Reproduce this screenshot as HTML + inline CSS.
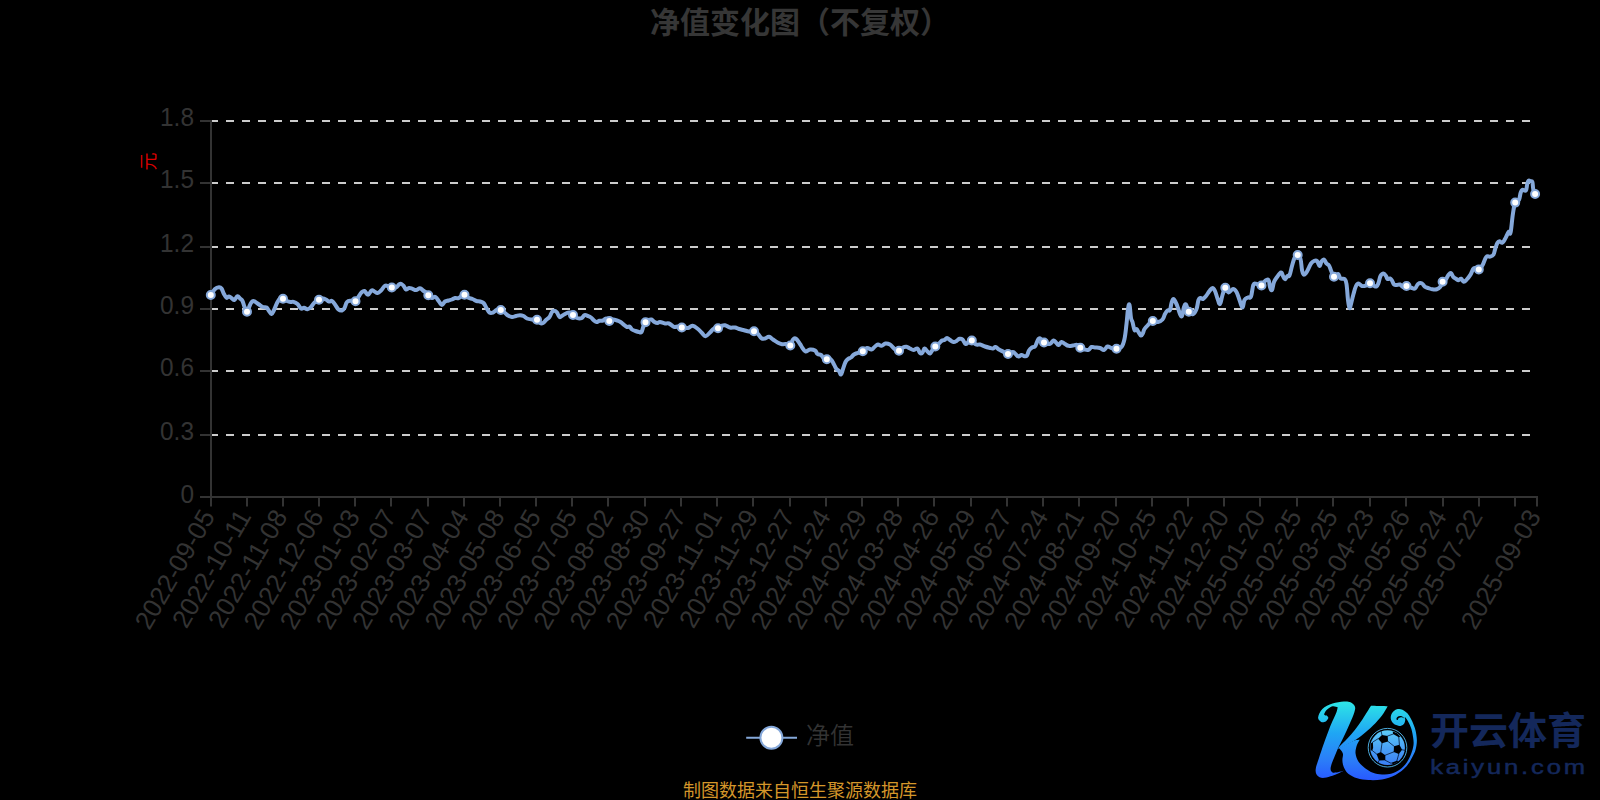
<!DOCTYPE html>
<html><head><meta charset="utf-8"><title>净值变化图（不复权）</title>
<style>html,body{margin:0;padding:0;background:#000;overflow:hidden}svg{display:block}text{font-family:"Liberation Sans","Noto Sans CJK SC",sans-serif}</style>
</head><body>
<svg width="1600" height="800" viewBox="0 0 1600 800">
<rect width="1600" height="800" fill="#000"/>
<text x="800" y="32.8" text-anchor="middle" font-size="30" font-weight="bold" fill="#363636">净值变化图（不复权）</text>
<line x1="210" y1="121" x2="1538" y2="121" stroke="#cccccc" stroke-width="2" stroke-dasharray="8 8"/>
<line x1="210" y1="183" x2="1538" y2="183" stroke="#cccccc" stroke-width="2" stroke-dasharray="8 8"/>
<line x1="210" y1="247" x2="1538" y2="247" stroke="#cccccc" stroke-width="2" stroke-dasharray="8 8"/>
<line x1="210" y1="309" x2="1538" y2="309" stroke="#cccccc" stroke-width="2" stroke-dasharray="8 8"/>
<line x1="210" y1="371" x2="1538" y2="371" stroke="#cccccc" stroke-width="2" stroke-dasharray="8 8"/>
<line x1="210" y1="435" x2="1538" y2="435" stroke="#cccccc" stroke-width="2" stroke-dasharray="8 8"/>
<g stroke="#333333" stroke-width="2" fill="none">
<line x1="211" y1="120" x2="211" y2="498"/>
<line x1="200" y1="121" x2="211" y2="121"/>
<line x1="200" y1="183" x2="211" y2="183"/>
<line x1="200" y1="247" x2="211" y2="247"/>
<line x1="200" y1="309" x2="211" y2="309"/>
<line x1="200" y1="371" x2="211" y2="371"/>
<line x1="200" y1="435" x2="211" y2="435"/>
<line x1="200" y1="497" x2="211" y2="497"/>
<line x1="210" y1="497" x2="1538" y2="497"/>
<line x1="211" y1="497" x2="211" y2="506.5"/>
<line x1="247" y1="497" x2="247" y2="506.5"/>
<line x1="283" y1="497" x2="283" y2="506.5"/>
<line x1="319" y1="497" x2="319" y2="506.5"/>
<line x1="355" y1="497" x2="355" y2="506.5"/>
<line x1="391" y1="497" x2="391" y2="506.5"/>
<line x1="428" y1="497" x2="428" y2="506.5"/>
<line x1="464" y1="497" x2="464" y2="506.5"/>
<line x1="500" y1="497" x2="500" y2="506.5"/>
<line x1="536" y1="497" x2="536" y2="506.5"/>
<line x1="572" y1="497" x2="572" y2="506.5"/>
<line x1="608" y1="497" x2="608" y2="506.5"/>
<line x1="645" y1="497" x2="645" y2="506.5"/>
<line x1="681" y1="497" x2="681" y2="506.5"/>
<line x1="717" y1="497" x2="717" y2="506.5"/>
<line x1="753" y1="497" x2="753" y2="506.5"/>
<line x1="790" y1="497" x2="790" y2="506.5"/>
<line x1="826" y1="497" x2="826" y2="506.5"/>
<line x1="862" y1="497" x2="862" y2="506.5"/>
<line x1="898" y1="497" x2="898" y2="506.5"/>
<line x1="934" y1="497" x2="934" y2="506.5"/>
<line x1="971" y1="497" x2="971" y2="506.5"/>
<line x1="1007" y1="497" x2="1007" y2="506.5"/>
<line x1="1043" y1="497" x2="1043" y2="506.5"/>
<line x1="1079" y1="497" x2="1079" y2="506.5"/>
<line x1="1116" y1="497" x2="1116" y2="506.5"/>
<line x1="1152" y1="497" x2="1152" y2="506.5"/>
<line x1="1188" y1="497" x2="1188" y2="506.5"/>
<line x1="1224" y1="497" x2="1224" y2="506.5"/>
<line x1="1260" y1="497" x2="1260" y2="506.5"/>
<line x1="1297" y1="497" x2="1297" y2="506.5"/>
<line x1="1333" y1="497" x2="1333" y2="506.5"/>
<line x1="1370" y1="497" x2="1370" y2="506.5"/>
<line x1="1406" y1="497" x2="1406" y2="506.5"/>
<line x1="1443" y1="497" x2="1443" y2="506.5"/>
<line x1="1479" y1="497" x2="1479" y2="506.5"/>
<line x1="1515" y1="497" x2="1515" y2="506.5"/>
<line x1="1537" y1="497" x2="1537" y2="506.5"/>
</g>
<g font-size="26" fill="#333333" text-anchor="end">
<text transform="translate(194,126.3) scale(0.94,1)">1.8</text>
<text transform="translate(194,188.3) scale(0.94,1)">1.5</text>
<text transform="translate(194,252.3) scale(0.94,1)">1.2</text>
<text transform="translate(194,314.3) scale(0.94,1)">0.9</text>
<text transform="translate(194,376.3) scale(0.94,1)">0.6</text>
<text transform="translate(194,440.3) scale(0.94,1)">0.3</text>
<text transform="translate(194,503.2) scale(0.94,1)">0</text>
</g>
<g font-size="26" fill="#333333" text-anchor="end">
<text transform="translate(211.0,513.4) rotate(-60)" y="5.5">2022-09-05</text>
<text transform="translate(247.2,513.4) rotate(-60)" y="5.5">2022-10-11</text>
<text transform="translate(283.4,513.4) rotate(-60)" y="5.5">2022-11-08</text>
<text transform="translate(319.7,513.4) rotate(-60)" y="5.5">2022-12-06</text>
<text transform="translate(355.9,513.4) rotate(-60)" y="5.5">2023-01-03</text>
<text transform="translate(392.1,513.4) rotate(-60)" y="5.5">2023-02-07</text>
<text transform="translate(428.3,513.4) rotate(-60)" y="5.5">2023-03-07</text>
<text transform="translate(464.6,513.4) rotate(-60)" y="5.5">2023-04-04</text>
<text transform="translate(500.8,513.4) rotate(-60)" y="5.5">2023-05-08</text>
<text transform="translate(537.0,513.4) rotate(-60)" y="5.5">2023-06-05</text>
<text transform="translate(573.2,513.4) rotate(-60)" y="5.5">2023-07-05</text>
<text transform="translate(609.4,513.4) rotate(-60)" y="5.5">2023-08-02</text>
<text transform="translate(645.7,513.4) rotate(-60)" y="5.5">2023-08-30</text>
<text transform="translate(681.9,513.4) rotate(-60)" y="5.5">2023-09-27</text>
<text transform="translate(718.1,513.4) rotate(-60)" y="5.5">2023-11-01</text>
<text transform="translate(754.3,513.4) rotate(-60)" y="5.5">2023-11-29</text>
<text transform="translate(790.6,513.4) rotate(-60)" y="5.5">2023-12-27</text>
<text transform="translate(826.8,513.4) rotate(-60)" y="5.5">2024-01-24</text>
<text transform="translate(863.0,513.4) rotate(-60)" y="5.5">2024-02-29</text>
<text transform="translate(899.2,513.4) rotate(-60)" y="5.5">2024-03-28</text>
<text transform="translate(935.4,513.4) rotate(-60)" y="5.5">2024-04-26</text>
<text transform="translate(971.7,513.4) rotate(-60)" y="5.5">2024-05-29</text>
<text transform="translate(1007.9,513.4) rotate(-60)" y="5.5">2024-06-27</text>
<text transform="translate(1044.1,513.4) rotate(-60)" y="5.5">2024-07-24</text>
<text transform="translate(1080.3,513.4) rotate(-60)" y="5.5">2024-08-21</text>
<text transform="translate(1116.6,513.4) rotate(-60)" y="5.5">2024-09-20</text>
<text transform="translate(1152.8,513.4) rotate(-60)" y="5.5">2024-10-25</text>
<text transform="translate(1189.0,513.4) rotate(-60)" y="5.5">2024-11-22</text>
<text transform="translate(1225.2,513.4) rotate(-60)" y="5.5">2024-12-20</text>
<text transform="translate(1261.4,513.4) rotate(-60)" y="5.5">2025-01-20</text>
<text transform="translate(1297.7,513.4) rotate(-60)" y="5.5">2025-02-25</text>
<text transform="translate(1333.9,513.4) rotate(-60)" y="5.5">2025-03-25</text>
<text transform="translate(1370.1,513.4) rotate(-60)" y="5.5">2025-04-23</text>
<text transform="translate(1406.3,513.4) rotate(-60)" y="5.5">2025-05-26</text>
<text transform="translate(1442.6,513.4) rotate(-60)" y="5.5">2025-06-24</text>
<text transform="translate(1478.8,513.4) rotate(-60)" y="5.5">2025-07-22</text>
<text transform="translate(1537.0,513.4) rotate(-60)" y="5.5">2025-09-03</text>
</g>
<text transform="translate(148.5,161.5) rotate(-90)" text-anchor="middle" y="6.5" font-size="18" fill="#dd0000">元</text>
<path d="M210.80,295.00C211.64,293.80 213.36,290.56 215.00,289.00C216.64,287.44 217.70,287.30 219.00,287.20C220.30,287.10 220.50,287.14 221.50,288.50C222.50,289.86 223.00,292.14 224.00,294.00C225.00,295.86 225.50,297.30 226.50,297.80C227.50,298.30 227.90,296.36 229.00,296.50C230.10,296.64 230.90,297.84 232.00,298.50C233.10,299.16 233.40,300.26 234.50,299.80C235.60,299.34 236.40,296.46 237.50,296.20C238.60,295.94 239.00,297.54 240.00,298.50C241.00,299.46 241.60,299.30 242.50,301.00C243.40,302.70 243.60,304.84 244.50,307.00C245.40,309.16 245.90,312.20 247.00,311.80C248.10,311.40 248.90,307.12 250.00,305.00C251.10,302.88 251.40,301.80 252.50,301.20C253.60,300.60 254.20,301.34 255.50,302.00C256.80,302.66 257.50,303.50 259.00,304.50C260.50,305.50 261.50,306.40 263.00,307.00C264.50,307.60 265.30,306.70 266.50,307.50C267.70,308.30 268.00,309.70 269.00,311.00C270.00,312.30 270.50,314.20 271.50,314.00C272.50,313.80 272.90,312.20 274.00,310.00C275.10,307.80 275.80,305.30 277.00,303.00C278.20,300.70 278.80,299.34 280.00,298.50C281.20,297.66 281.60,298.30 283.00,298.80C284.40,299.30 285.50,300.36 287.00,301.00C288.50,301.64 289.20,301.84 290.50,302.00C291.80,302.16 292.10,301.40 293.50,301.80C294.90,302.20 296.00,302.66 297.50,304.00C299.00,305.34 299.70,307.74 301.00,308.50C302.30,309.26 302.70,307.66 304.00,307.80C305.30,307.94 306.10,309.36 307.50,309.20C308.90,309.04 309.60,308.34 311.00,307.00C312.40,305.66 312.90,303.94 314.50,302.50C316.10,301.06 317.30,300.60 319.00,299.80C320.70,299.00 321.60,298.56 323.00,298.50C324.40,298.44 324.80,298.90 326.00,299.50C327.20,300.10 327.80,301.20 329.00,301.50C330.20,301.80 330.80,300.40 332.00,301.00C333.20,301.60 333.70,302.80 335.00,304.50C336.30,306.20 337.10,308.30 338.50,309.50C339.90,310.70 340.80,310.80 342.00,310.50C343.20,310.20 343.50,309.70 344.50,308.00C345.50,306.30 345.70,303.44 347.00,302.00C348.30,300.56 349.30,300.96 351.00,300.80C352.70,300.64 353.90,302.16 355.50,301.20C357.10,300.24 357.80,297.74 359.00,296.00C360.20,294.26 360.40,293.50 361.50,292.50C362.60,291.50 363.20,290.54 364.50,291.00C365.80,291.46 366.60,294.90 368.00,294.80C369.40,294.70 370.20,291.16 371.50,290.50C372.80,289.84 373.30,291.00 374.50,291.50C375.70,292.00 376.20,293.20 377.50,293.00C378.80,292.80 379.50,291.94 381.00,290.50C382.50,289.06 383.50,286.60 385.00,285.80C386.50,285.00 387.14,286.16 388.50,286.50C389.86,286.84 390.30,287.30 391.80,287.50C393.30,287.70 394.56,288.10 396.00,287.50C397.44,286.90 397.90,285.20 399.00,284.50C400.10,283.80 400.50,283.60 401.50,284.00C402.50,284.40 403.10,285.40 404.00,286.50C404.90,287.60 405.00,289.20 406.00,289.50C407.00,289.80 407.70,288.14 409.00,288.00C410.30,287.86 411.10,288.40 412.50,288.80C413.90,289.20 414.50,290.12 416.00,290.00C417.50,289.88 418.60,288.10 420.00,288.20C421.40,288.30 421.80,289.64 423.00,290.50C424.20,291.36 424.94,291.54 426.00,292.50C427.06,293.46 427.10,294.20 428.30,295.30C429.50,296.40 430.56,297.66 432.00,298.00C433.44,298.34 434.10,296.30 435.50,297.00C436.90,297.70 437.70,299.90 439.00,301.50C440.30,303.10 440.80,305.00 442.00,305.00C443.20,305.00 443.70,302.40 445.00,301.50C446.30,300.60 447.10,300.90 448.50,300.50C449.90,300.10 450.70,300.00 452.00,299.50C453.30,299.00 453.70,298.26 455.00,298.00C456.30,297.74 457.20,298.60 458.50,298.20C459.80,297.80 460.30,296.70 461.50,296.00C462.70,295.30 463.10,294.34 464.50,294.70C465.90,295.06 466.90,296.94 468.50,297.80C470.10,298.66 470.90,298.36 472.50,299.00C474.10,299.64 475.00,300.50 476.50,301.00C478.00,301.50 478.60,301.10 480.00,301.50C481.40,301.90 482.20,301.70 483.50,303.00C484.80,304.30 485.30,306.10 486.50,308.00C487.70,309.90 488.20,311.60 489.50,312.50C490.80,313.40 491.60,313.00 493.00,312.50C494.40,312.00 494.94,310.50 496.50,310.00C498.06,309.50 499.20,309.50 500.80,310.00C502.40,310.50 503.06,311.40 504.50,312.50C505.94,313.60 506.50,314.60 508.00,315.50C509.50,316.40 510.40,316.90 512.00,317.00C513.60,317.10 514.40,316.36 516.00,316.00C517.60,315.64 518.50,315.20 520.00,315.20C521.50,315.20 522.10,315.34 523.50,316.00C524.90,316.66 525.30,317.80 527.00,318.50C528.70,319.20 530.00,319.24 532.00,319.50C534.00,319.76 535.40,319.10 537.00,319.80C538.60,320.50 538.80,322.36 540.00,323.00C541.20,323.64 541.80,323.60 543.00,323.00C544.20,322.40 544.70,321.20 546.00,320.00C547.30,318.80 548.30,318.60 549.50,317.00C550.70,315.40 551.00,313.24 552.00,312.00C553.00,310.76 553.50,310.70 554.50,310.80C555.50,310.90 556.00,311.26 557.00,312.50C558.00,313.74 558.40,316.40 559.50,317.00C560.60,317.60 561.20,316.20 562.50,315.50C563.80,314.80 564.60,314.10 566.00,313.50C567.40,312.90 568.10,312.20 569.50,312.50C570.90,312.80 571.50,313.90 573.00,315.00C574.50,316.10 575.30,317.36 577.00,318.00C578.70,318.64 580.00,318.76 581.50,318.20C583.00,317.64 583.20,315.64 584.50,315.20C585.80,314.76 586.70,315.54 588.00,316.00C589.30,316.46 589.80,316.60 591.00,317.50C592.20,318.40 592.90,319.60 594.00,320.50C595.10,321.40 595.40,321.94 596.50,322.00C597.60,322.06 598.20,321.10 599.50,320.80C600.80,320.50 601.70,320.96 603.00,320.50C604.30,320.04 604.74,318.40 606.00,318.50C607.26,318.60 607.90,320.80 609.30,321.00C610.70,321.20 611.46,319.60 613.00,319.50C614.54,319.40 615.50,320.00 617.00,320.50C618.50,321.00 619.10,321.14 620.50,322.00C621.90,322.86 622.70,323.80 624.00,324.80C625.30,325.80 625.90,326.66 627.00,327.00C628.10,327.34 628.50,326.00 629.50,326.50C630.50,327.00 630.80,328.60 632.00,329.50C633.20,330.40 634.10,330.50 635.50,331.00C636.90,331.50 637.80,331.80 639.00,332.00C640.20,332.20 640.60,333.20 641.50,332.00C642.40,330.80 642.70,327.96 643.50,326.00C644.30,324.04 644.50,323.40 645.50,322.20C646.50,321.00 647.30,320.54 648.50,320.00C649.70,319.46 650.30,319.10 651.50,319.50C652.70,319.90 653.30,321.30 654.50,322.00C655.70,322.70 656.40,323.00 657.50,323.00C658.60,323.00 658.50,321.90 660.00,322.00C661.50,322.10 663.20,323.20 665.00,323.50C666.80,323.80 667.20,322.84 669.00,323.50C670.80,324.16 672.20,326.20 674.00,326.80C675.80,327.40 676.44,326.36 678.00,326.50C679.56,326.64 679.80,327.20 681.80,327.50C683.80,327.80 685.86,328.34 688.00,328.00C690.14,327.66 690.50,325.60 692.50,325.80C694.50,326.00 696.10,327.56 698.00,329.00C699.90,330.44 700.50,331.56 702.00,333.00C703.50,334.44 703.90,336.30 705.50,336.20C707.10,336.10 708.30,334.04 710.00,332.50C711.70,330.96 712.40,329.36 714.00,328.50C715.60,327.64 716.50,328.70 718.00,328.20C719.50,327.70 720.10,326.60 721.50,326.00C722.90,325.40 723.30,324.90 725.00,325.20C726.70,325.50 728.00,327.04 730.00,327.50C732.00,327.96 733.20,327.20 735.00,327.50C736.80,327.80 737.20,328.46 739.00,329.00C740.80,329.54 742.00,329.70 744.00,330.20C746.00,330.70 747.00,331.30 749.00,331.50C751.00,331.70 752.20,330.70 754.00,331.20C755.80,331.70 756.50,332.60 758.00,334.00C759.50,335.40 760.10,337.30 761.50,338.20C762.90,339.10 763.50,338.78 765.00,338.50C766.50,338.22 767.40,336.60 769.00,336.80C770.60,337.00 771.20,338.30 773.00,339.50C774.80,340.70 776.20,341.86 778.00,342.80C779.80,343.74 780.40,343.96 782.00,344.20C783.60,344.44 784.34,343.74 786.00,344.00C787.66,344.26 788.90,346.40 790.30,345.50C791.70,344.60 791.86,340.84 793.00,339.50C794.14,338.16 794.60,337.90 796.00,338.80C797.40,339.70 798.70,342.16 800.00,344.00C801.30,345.84 801.40,346.50 802.50,348.00C803.60,349.50 804.00,351.20 805.50,351.50C807.00,351.80 808.10,349.70 810.00,349.50C811.90,349.30 813.50,349.60 815.00,350.50C816.50,351.40 816.30,353.10 817.50,354.00C818.70,354.90 819.80,354.20 821.00,355.00C822.20,355.80 822.34,357.16 823.50,358.00C824.66,358.84 825.30,358.90 826.80,359.20C828.30,359.50 829.56,358.44 831.00,359.50C832.44,360.56 832.90,362.60 834.00,364.50C835.10,366.40 835.50,367.70 836.50,369.00C837.50,370.30 838.10,369.90 839.00,371.00C839.90,372.10 840.20,374.90 841.00,374.50C841.80,374.10 842.10,371.50 843.00,369.00C843.90,366.50 844.50,364.00 845.50,362.00C846.50,360.00 846.90,359.90 848.00,359.00C849.10,358.10 849.80,358.40 851.00,357.50C852.20,356.60 852.60,355.44 854.00,354.50C855.40,353.56 856.24,353.46 858.00,352.80C859.76,352.14 861.00,352.16 862.80,351.20C864.60,350.24 865.26,348.34 867.00,348.00C868.74,347.66 869.90,349.80 871.50,349.50C873.10,349.20 873.70,347.50 875.00,346.50C876.30,345.50 876.70,344.64 878.00,344.50C879.30,344.36 880.00,346.00 881.50,345.80C883.00,345.60 883.80,343.76 885.50,343.50C887.20,343.24 888.50,343.70 890.00,344.50C891.50,345.30 891.80,346.40 893.00,347.50C894.20,348.60 894.80,349.34 896.00,350.00C897.20,350.66 897.60,351.30 899.00,350.80C900.40,350.30 901.50,348.30 903.00,347.50C904.50,346.70 905.10,346.60 906.50,346.80C907.90,347.00 908.60,347.86 910.00,348.50C911.40,349.14 912.00,350.00 913.50,350.00C915.00,350.00 916.20,347.90 917.50,348.50C918.80,349.10 919.00,352.20 920.00,353.00C921.00,353.80 921.60,353.40 922.50,352.50C923.40,351.60 923.50,348.70 924.50,348.50C925.50,348.30 926.40,350.50 927.50,351.50C928.60,352.50 929.00,353.80 930.00,353.50C931.00,353.20 931.44,351.40 932.50,350.00C933.56,348.60 934.00,347.80 935.30,346.50C936.60,345.20 937.66,344.70 939.00,343.50C940.34,342.30 940.90,341.20 942.00,340.50C943.10,339.80 943.50,340.50 944.50,340.00C945.50,339.50 945.90,338.00 947.00,338.00C948.10,338.00 948.70,339.20 950.00,340.00C951.30,340.80 952.20,341.80 953.50,342.00C954.80,342.20 955.30,341.64 956.50,341.00C957.70,340.36 958.30,339.10 959.50,338.80C960.70,338.50 961.30,338.46 962.50,339.50C963.70,340.54 964.30,343.50 965.50,344.00C966.70,344.50 967.24,342.70 968.50,342.00C969.76,341.30 970.30,340.00 971.80,340.50C973.30,341.00 974.36,343.70 976.00,344.50C977.64,345.30 978.20,344.10 980.00,344.50C981.80,344.90 983.10,345.84 985.00,346.50C986.90,347.16 987.90,347.40 989.50,347.80C991.10,348.20 991.80,348.66 993.00,348.50C994.20,348.34 994.30,346.80 995.50,347.00C996.70,347.20 997.50,348.60 999.00,349.50C1000.50,350.40 1001.70,350.70 1003.00,351.50C1004.30,352.30 1004.50,353.00 1005.50,353.50C1006.50,354.00 1006.50,354.30 1008.00,354.00C1009.50,353.70 1011.50,352.00 1013.00,352.00C1014.50,352.00 1014.40,353.10 1015.50,354.00C1016.60,354.90 1017.30,356.30 1018.50,356.50C1019.70,356.70 1020.30,355.06 1021.50,355.00C1022.70,354.94 1023.40,356.10 1024.50,356.20C1025.60,356.30 1026.10,356.64 1027.00,355.50C1027.90,354.36 1028.00,352.10 1029.00,350.50C1030.00,348.90 1030.80,348.30 1032.00,347.50C1033.20,346.70 1034.00,347.60 1035.00,346.50C1036.00,345.40 1036.20,343.60 1037.00,342.00C1037.80,340.40 1038.10,339.00 1039.00,338.50C1039.90,338.00 1040.50,338.70 1041.50,339.50C1042.50,340.30 1042.80,341.60 1044.00,342.50C1045.20,343.40 1046.20,343.80 1047.50,344.00C1048.80,344.20 1049.30,344.20 1050.50,343.50C1051.70,342.80 1052.40,340.70 1053.50,340.50C1054.60,340.30 1055.00,341.60 1056.00,342.50C1057.00,343.40 1057.40,345.10 1058.50,345.00C1059.60,344.90 1060.20,342.20 1061.50,342.00C1062.80,341.80 1063.60,343.24 1065.00,344.00C1066.40,344.76 1066.90,345.50 1068.50,345.80C1070.10,346.10 1071.30,345.70 1073.00,345.50C1074.70,345.30 1075.54,344.34 1077.00,344.80C1078.46,345.26 1078.80,346.86 1080.30,347.80C1081.80,348.74 1082.86,349.10 1084.50,349.50C1086.14,349.90 1087.10,350.30 1088.50,349.80C1089.90,349.30 1090.20,347.46 1091.50,347.00C1092.80,346.54 1093.30,347.30 1095.00,347.50C1096.70,347.70 1098.20,347.50 1100.00,348.00C1101.80,348.50 1102.50,350.30 1104.00,350.00C1105.50,349.70 1106.00,346.90 1107.50,346.50C1109.00,346.10 1109.70,347.54 1111.50,348.00C1113.30,348.46 1114.50,349.00 1116.50,348.80C1118.50,348.60 1119.90,348.96 1121.50,347.00C1123.10,345.04 1123.50,343.60 1124.50,339.00C1125.50,334.40 1125.80,330.00 1126.50,324.00C1127.20,318.00 1127.40,312.80 1128.00,309.00C1128.60,305.20 1128.90,303.20 1129.50,305.00C1130.10,306.80 1130.40,314.60 1131.00,318.00C1131.60,321.40 1131.80,319.60 1132.50,322.00C1133.20,324.40 1133.70,328.60 1134.50,330.00C1135.30,331.40 1135.70,328.60 1136.50,329.00C1137.30,329.40 1137.60,330.70 1138.50,332.00C1139.40,333.30 1140.10,335.30 1141.00,335.50C1141.90,335.70 1142.30,334.30 1143.00,333.00C1143.70,331.70 1143.50,330.60 1144.50,329.00C1145.50,327.40 1146.34,326.60 1148.00,325.00C1149.66,323.40 1150.80,321.60 1152.80,321.00C1154.80,320.40 1156.06,322.30 1158.00,322.00C1159.94,321.70 1161.10,321.10 1162.50,319.50C1163.90,317.90 1164.00,315.80 1165.00,314.00C1166.00,312.20 1166.50,311.30 1167.50,310.50C1168.50,309.70 1169.20,311.50 1170.00,310.00C1170.80,308.50 1170.80,305.20 1171.50,303.00C1172.20,300.80 1172.60,299.00 1173.50,299.00C1174.40,299.00 1175.10,301.20 1176.00,303.00C1176.90,304.80 1177.20,305.80 1178.00,308.00C1178.80,310.20 1179.20,312.40 1180.00,314.00C1180.80,315.60 1181.20,317.40 1182.00,316.00C1182.80,314.60 1183.20,309.30 1184.00,307.00C1184.80,304.70 1185.04,303.54 1186.00,304.50C1186.96,305.46 1187.40,309.90 1188.80,311.80C1190.20,313.70 1191.46,314.56 1193.00,314.00C1194.54,313.44 1195.40,311.80 1196.50,309.00C1197.60,306.20 1197.70,302.20 1198.50,300.00C1199.30,297.80 1199.60,298.20 1200.50,298.00C1201.40,297.80 1201.90,299.40 1203.00,299.00C1204.10,298.60 1204.70,297.60 1206.00,296.00C1207.30,294.40 1208.20,292.60 1209.50,291.00C1210.80,289.40 1211.40,288.00 1212.50,288.00C1213.60,288.00 1214.00,288.90 1215.00,291.00C1216.00,293.10 1216.50,295.90 1217.50,298.50C1218.50,301.10 1219.00,304.70 1220.00,304.00C1221.00,303.30 1221.44,298.24 1222.50,295.00C1223.56,291.76 1224.10,288.30 1225.30,287.80C1226.50,287.30 1226.96,292.26 1228.50,292.50C1230.04,292.74 1231.40,289.10 1233.00,289.00C1234.60,288.90 1235.20,289.80 1236.50,292.00C1237.80,294.20 1238.30,296.90 1239.50,300.00C1240.70,303.10 1241.50,307.50 1242.50,307.50C1243.50,307.50 1243.40,302.00 1244.50,300.00C1245.60,298.00 1246.70,298.20 1248.00,297.50C1249.30,296.80 1249.94,299.00 1251.00,296.50C1252.06,294.00 1252.30,287.54 1253.30,285.00C1254.30,282.46 1254.96,283.80 1256.00,283.80C1257.04,283.80 1257.40,284.66 1258.50,285.00C1259.60,285.34 1260.20,286.30 1261.50,285.50C1262.80,284.70 1263.60,282.10 1265.00,281.00C1266.40,279.90 1267.50,278.80 1268.50,280.00C1269.50,281.20 1269.30,285.00 1270.00,287.00C1270.70,289.00 1271.20,291.00 1272.00,290.00C1272.80,289.00 1273.00,284.60 1274.00,282.00C1275.00,279.40 1275.60,278.90 1277.00,277.00C1278.40,275.10 1279.80,272.70 1281.00,272.50C1282.20,272.30 1282.20,274.66 1283.00,276.00C1283.80,277.34 1284.10,279.20 1285.00,279.20C1285.90,279.20 1286.60,276.74 1287.50,276.00C1288.40,275.26 1288.60,277.50 1289.50,275.50C1290.40,273.50 1291.00,269.50 1292.00,266.00C1293.00,262.50 1293.36,260.20 1294.50,258.00C1295.64,255.80 1296.50,254.80 1297.70,255.00C1298.90,255.20 1299.64,256.00 1300.50,259.00C1301.36,262.00 1301.40,266.90 1302.00,270.00C1302.60,273.10 1302.70,273.90 1303.50,274.50C1304.30,275.10 1305.00,274.20 1306.00,273.00C1307.00,271.80 1307.50,270.40 1308.50,268.50C1309.50,266.60 1309.90,265.00 1311.00,263.50C1312.10,262.00 1312.80,261.50 1314.00,261.00C1315.20,260.50 1315.90,260.00 1317.00,261.00C1318.10,262.00 1318.60,265.90 1319.50,266.00C1320.40,266.10 1320.60,262.80 1321.50,261.50C1322.40,260.20 1323.00,259.10 1324.00,259.50C1325.00,259.90 1325.50,262.30 1326.50,263.50C1327.50,264.70 1328.10,264.10 1329.00,265.50C1329.90,266.90 1330.00,268.24 1331.00,270.50C1332.00,272.76 1332.60,276.10 1334.00,276.80C1335.40,277.50 1336.70,273.66 1338.00,274.00C1339.30,274.34 1339.20,277.50 1340.50,278.50C1341.80,279.50 1343.30,277.90 1344.50,279.00C1345.70,280.10 1345.80,279.80 1346.50,284.00C1347.20,288.20 1347.40,295.20 1348.00,300.00C1348.60,304.80 1348.90,307.20 1349.50,308.00C1350.10,308.80 1350.20,306.80 1351.00,304.00C1351.80,301.20 1352.50,297.60 1353.50,294.00C1354.50,290.40 1355.00,288.10 1356.00,286.00C1357.00,283.90 1357.30,283.50 1358.50,283.50C1359.70,283.50 1360.50,285.60 1362.00,286.00C1363.50,286.40 1364.40,286.06 1366.00,285.50C1367.60,284.94 1368.50,283.20 1370.00,283.20C1371.50,283.20 1372.20,284.84 1373.50,285.50C1374.80,286.16 1375.50,287.00 1376.50,286.50C1377.50,286.00 1377.70,285.10 1378.50,283.00C1379.30,280.90 1379.50,277.90 1380.50,276.00C1381.50,274.10 1382.40,273.50 1383.50,273.50C1384.60,273.50 1385.20,274.90 1386.00,276.00C1386.80,277.10 1386.70,278.50 1387.50,279.00C1388.30,279.50 1389.10,278.20 1390.00,278.50C1390.90,278.80 1391.20,279.30 1392.00,280.50C1392.80,281.70 1393.00,283.60 1394.00,284.50C1395.00,285.40 1395.80,285.00 1397.00,285.00C1398.20,285.00 1398.80,284.10 1400.00,284.50C1401.20,284.90 1401.70,286.70 1403.00,287.00C1404.30,287.30 1404.85,285.85 1406.50,286.00C1408.15,286.15 1409.55,287.25 1411.25,287.75C1412.95,288.25 1413.65,289.25 1415.00,288.50C1416.35,287.75 1416.65,285.05 1418.00,284.00C1419.35,282.95 1420.40,282.73 1421.75,283.25C1423.10,283.77 1423.40,285.63 1424.75,286.60C1426.10,287.57 1427.00,287.57 1428.50,288.10C1430.00,288.63 1430.60,289.02 1432.25,289.25C1433.90,289.48 1435.18,289.70 1436.75,289.25C1438.32,288.80 1438.93,288.50 1440.10,287.00C1441.27,285.50 1441.47,283.25 1442.60,281.75C1443.73,280.25 1444.59,280.85 1445.75,279.50C1446.91,278.15 1447.35,276.28 1448.40,275.00C1449.45,273.72 1450.03,272.72 1451.00,273.10C1451.97,273.48 1452.27,275.77 1453.25,276.90C1454.23,278.03 1454.85,278.08 1455.90,278.75C1456.95,279.42 1457.46,280.25 1458.50,280.25C1459.54,280.25 1460.05,278.45 1461.10,278.75C1462.15,279.05 1462.62,281.60 1463.75,281.75C1464.88,281.90 1465.40,280.93 1466.75,279.50C1468.10,278.07 1469.07,276.85 1470.50,274.60C1471.93,272.35 1472.25,269.29 1473.90,268.25C1475.55,267.21 1477.03,270.00 1478.75,269.40C1480.47,268.80 1481.00,267.73 1482.50,265.25C1484.00,262.77 1484.75,258.73 1486.25,257.00C1487.75,255.27 1488.57,257.05 1490.00,256.60C1491.43,256.15 1492.35,256.32 1493.40,254.75C1494.45,253.18 1494.43,251.15 1495.25,248.75C1496.07,246.35 1496.67,244.25 1497.50,242.75C1498.33,241.25 1498.42,241.25 1499.40,241.25C1500.38,241.25 1501.28,243.20 1502.40,242.75C1503.52,242.30 1504.03,240.65 1505.00,239.00C1505.97,237.35 1506.45,236.00 1507.25,234.50C1508.05,233.00 1508.33,231.92 1509.00,231.50C1509.67,231.08 1509.82,235.90 1510.60,232.40C1511.38,228.90 1511.98,219.96 1512.90,214.00C1513.82,208.04 1514.00,205.40 1515.20,202.60C1516.40,199.80 1517.82,201.92 1518.90,200.00C1519.98,198.08 1519.90,195.02 1520.60,193.00C1521.30,190.98 1521.34,190.42 1522.40,189.90C1523.46,189.38 1524.94,191.54 1525.90,190.40C1526.86,189.26 1526.68,186.14 1527.20,184.20C1527.72,182.26 1527.80,181.30 1528.50,180.70C1529.20,180.10 1529.92,180.92 1530.70,181.20C1531.48,181.48 1531.88,180.44 1532.40,182.10C1532.92,183.76 1532.76,187.12 1533.30,189.50C1533.84,191.88 1534.74,193.10 1535.10,194.00" fill="none" stroke="#85a8da" stroke-width="4" stroke-linejoin="round" stroke-linecap="round"/>
<g fill="#fff" stroke="#85a8da" stroke-width="2">
<circle cx="210.8" cy="295.0" r="4"/>
<circle cx="247.0" cy="311.8" r="4"/>
<circle cx="283.0" cy="298.8" r="4"/>
<circle cx="319.0" cy="299.8" r="4"/>
<circle cx="355.5" cy="301.2" r="4"/>
<circle cx="391.8" cy="287.5" r="4"/>
<circle cx="428.3" cy="295.3" r="4"/>
<circle cx="464.5" cy="294.7" r="4"/>
<circle cx="500.8" cy="310.0" r="4"/>
<circle cx="537.0" cy="319.8" r="4"/>
<circle cx="573.0" cy="315.0" r="4"/>
<circle cx="609.3" cy="321.0" r="4"/>
<circle cx="645.5" cy="322.2" r="4"/>
<circle cx="681.8" cy="327.5" r="4"/>
<circle cx="718.0" cy="328.2" r="4"/>
<circle cx="754.0" cy="331.2" r="4"/>
<circle cx="790.3" cy="345.5" r="4"/>
<circle cx="826.8" cy="359.2" r="4"/>
<circle cx="862.8" cy="351.2" r="4"/>
<circle cx="899.0" cy="350.8" r="4"/>
<circle cx="935.3" cy="346.5" r="4"/>
<circle cx="971.8" cy="340.5" r="4"/>
<circle cx="1008.0" cy="354.0" r="4"/>
<circle cx="1044.0" cy="342.5" r="4"/>
<circle cx="1080.3" cy="347.8" r="4"/>
<circle cx="1116.5" cy="348.8" r="4"/>
<circle cx="1152.8" cy="321.0" r="4"/>
<circle cx="1188.8" cy="311.8" r="4"/>
<circle cx="1225.3" cy="287.8" r="4"/>
<circle cx="1261.5" cy="285.5" r="4"/>
<circle cx="1297.7" cy="255.0" r="4"/>
<circle cx="1334.0" cy="276.8" r="4"/>
<circle cx="1370.0" cy="283.2" r="4"/>
<circle cx="1406.5" cy="286.0" r="4"/>
<circle cx="1442.6" cy="281.8" r="4"/>
<circle cx="1478.8" cy="269.4" r="4"/>
<circle cx="1515.2" cy="202.6" r="4"/>
<circle cx="1535.1" cy="194.0" r="4"/>
</g>
<line x1="746.2" y1="737.8" x2="797" y2="737.8" stroke="#85a8da" stroke-width="2"/>
<circle cx="771.4" cy="737.8" r="11" fill="#fff" stroke="#85a8da" stroke-width="2"/>
<text x="806" y="743.8" font-size="24" font-weight="350" fill="#333333">净值</text>
<text x="800" y="796.7" text-anchor="middle" font-size="18" fill="#d4962a">制图数据来自恒生聚源数据库</text>
<defs>
<linearGradient id="kg" gradientUnits="userSpaceOnUse" x1="0" y1="60" x2="0" y2="760"><stop offset="0" stop-color="#2ee6e6"/><stop offset="0.4" stop-color="#1fa6f4"/><stop offset="0.75" stop-color="#2b7cf8"/><stop offset="1" stop-color="#2858ff"/></linearGradient>
<linearGradient id="bg" x1="0" y1="0" x2="0" y2="1"><stop offset="0" stop-color="#5ccdf8"/><stop offset="0.5" stop-color="#4aa2f5"/><stop offset="1" stop-color="#3b7ff6"/></linearGradient>
<clipPath id="bc"><circle cx="392" cy="395" r="290"/></clipPath>
</defs>
<g transform="translate(1310,695) scale(0.1125)">
<g fill="url(#kg)">
<path d="M150,182C152,186 165,196 163,205C161,214 150,229 140,235C130,241 111,246 100,240C89,234 70,219 72,200C74,181 89,146 110,125C131,104 168,87 200,76C232,65 273,60 300,58C327,56 344,58 360,65C376,72 392,86 398,100C404,114 403,123 395,150C387,177 366,225 350,262C334,299 317,335 300,370C283,405 264,441 250,472C236,503 226,529 215,555C204,581 192,611 187,630C182,649 182,660 185,670C188,680 202,687 205,690C212,689 234,689 250,686C266,683 292,676 300,674C292,678 272,689 255,696C238,703 221,711 200,718C179,725 149,734 130,736C111,738 98,736 85,730C72,724 60,713 55,700C50,687 48,673 52,650C56,627 69,595 80,560C91,525 107,478 120,440C133,402 147,365 160,330C173,295 187,262 200,232C213,202 228,171 236,150C244,129 244,115 246,108C238,107 216,96 200,100C184,104 162,119 150,130C138,141 129,160 126,168C123,176 129,178 133,180C137,182 147,182 150,182Z"/>
<path d="M542,96C567,97 665,99 690,100C682,114 662,153 640,182C618,211 588,244 560,272C532,300 497,330 470,352C443,374 422,388 400,402C378,416 365,421 340,434C315,447 265,472 250,480C252,476 249,473 262,458C275,443 307,413 330,388C353,363 377,338 400,308C423,278 446,245 470,210C494,175 530,115 542,96Z"/>
<path d="M258,472C270,466 307,445 330,434C353,423 376,410 395,404C414,398 434,399 442,398C438,407 421,430 415,450C409,470 402,497 405,520C408,543 416,568 430,590C444,612 468,633 490,650C512,667 535,681 560,690C585,699 613,704 640,706C667,708 693,707 720,700C747,693 777,679 800,662C823,645 843,624 860,600C877,576 890,546 900,520C910,494 917,467 920,444C923,421 920,403 917,380C914,357 908,326 902,304C896,282 887,265 880,250C873,235 866,224 860,215C854,206 845,199 842,196C843,201 848,216 846,226C844,236 841,251 832,259C823,267 807,276 792,275C777,274 754,265 742,254C730,243 720,225 718,209C716,193 721,173 730,159C739,145 757,132 772,127C787,122 804,122 822,132C840,142 864,157 882,184C900,211 921,258 932,294C943,330 949,369 950,400C951,431 945,458 940,480C935,502 933,505 920,530C907,555 887,600 860,630C833,660 797,690 760,710C723,730 680,742 640,750C600,758 557,758 520,756C483,754 450,749 420,740C390,731 360,717 340,700C320,683 309,660 300,640C291,620 289,600 288,580C287,560 297,538 292,520C287,502 264,480 258,472Z"/>
</g>
<path fill="#000" d="M768,216C766,196 785,184 805,186C822,188 834,198 840,212C828,202 815,198 803,199C790,200 782,208 782,218C780,225 770,225 768,216Z"/>
</g>
<g transform="translate(1364,724) scale(0.06)">
<circle cx="392" cy="395" r="322" fill="none" stroke="#54bcf3" stroke-width="15"/>
<circle cx="392" cy="395" r="290" fill="url(#bg)"/>
<g stroke="#031433" stroke-width="13" fill="none" stroke-linecap="round">
<path d="M400,290 L500,370 M495,465 L355,520 M280,465 L300,320 M395,200 L485,168 M300,185 L285,120 M235,245 L148,300 M590,345 L580,222 M635,430 L690,440 M580,500 L548,612 M355,605 L445,652 M250,610 L232,645 M210,500 L138,442"/>
</g>
<g fill="#000" clip-path="url(#bc)">
<path d="M235,245 L300,185 L395,200 L400,290 L300,320 Z"/>
<path d="M500,370 L590,345 L635,430 L580,500 L495,465 Z"/>
<path d="M210,500 L280,465 L355,520 L355,605 L250,610 Z"/>
<path d="M478,122 L560,158 L604,214 L580,222 L485,168 Z"/>
<path d="M106,330 L148,300 L152,400 L138,442 L106,440 Z"/>
<path d="M445,652 L548,612 L592,622 L520,682 Z"/>
</g>
</g>
<text x="1430" y="743.6" font-size="38" font-weight="bold" fill="#14285b" textLength="156" lengthAdjust="spacingAndGlyphs">开云体育</text>
<text transform="translate(1430.2,773.8) scale(1.28,1)" font-size="20" letter-spacing="2.2" stroke="#14285b" stroke-width="0.5" fill="#14285b">kaiyun.com</text>

</svg></body></html>
